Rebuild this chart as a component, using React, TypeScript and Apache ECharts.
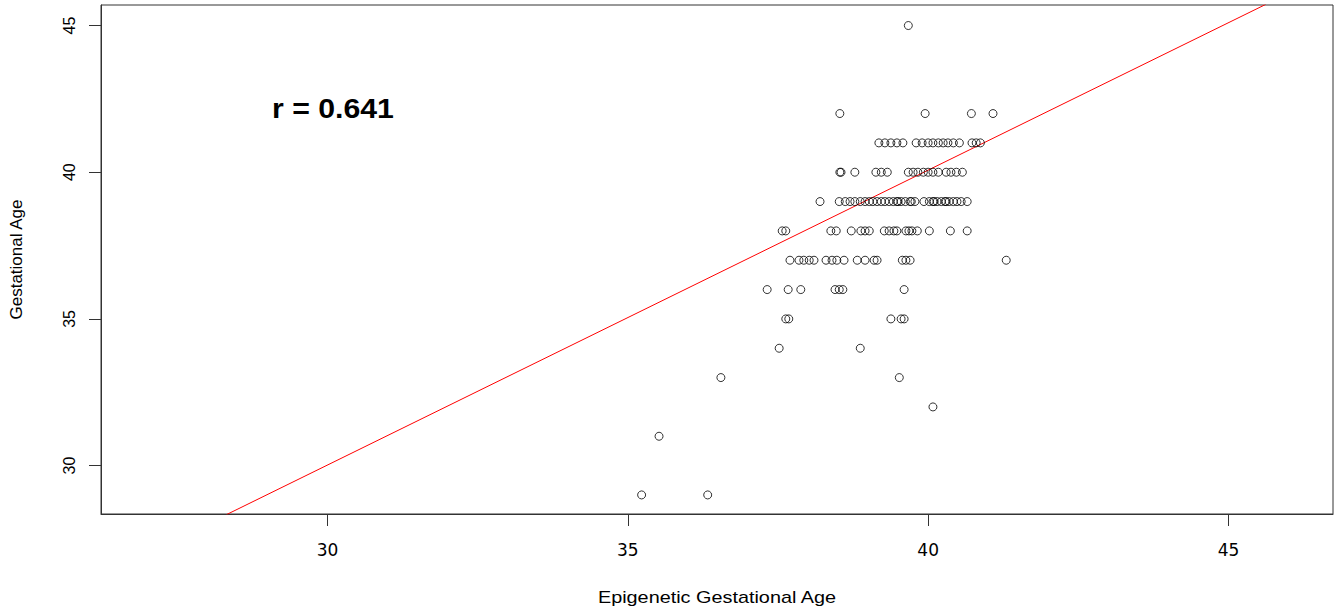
import React, { useEffect, useRef } from "react";
import * as echarts from "echarts";

// Epigenetic gestational age values, grouped by observed gestational age (weeks)
const epiAt45 = [39.67];
const epiAt42 = [38.53, 39.95, 40.72, 41.08];
const epiAt41 = [39.18, 39.28, 39.38, 39.48, 39.58, 39.8, 39.9, 40.0, 40.08, 40.17, 40.25, 40.33, 40.42, 40.52, 40.73, 40.8, 40.87];
const epiAt40 = [38.53, 38.55, 38.78, 39.13, 39.22, 39.32, 39.67, 39.75, 39.83, 39.92, 40.0, 40.08, 40.17, 40.3, 40.38, 40.47, 40.57];
const epiAt39 = [38.2, 38.52, 38.62, 38.7, 38.78, 38.87, 38.95, 39.02, 39.08, 39.15, 39.22, 39.28, 39.35, 39.42, 39.48, 39.5, 39.55, 39.62, 39.7, 39.72, 39.78, 39.93, 40.02, 40.08, 40.1, 40.15, 40.22, 40.28, 40.3, 40.35, 40.42, 40.48, 40.55, 40.65];
const epiAt38 = [37.57, 37.63, 38.38, 38.47, 38.72, 38.88, 38.95, 39.02, 39.27, 39.35, 39.43, 39.48, 39.63, 39.68, 39.73, 39.82, 40.02, 40.37, 40.65];
const epiAt37 = [37.7, 37.85, 37.93, 38.02, 38.1, 38.3, 38.4, 38.48, 38.6, 38.82, 38.95, 39.1, 39.15, 39.57, 39.63, 39.7, 41.3];
const epiAt36 = [37.32, 37.67, 37.88, 38.45, 38.52, 38.58, 39.6];
const epiAt35 = [37.63, 37.68, 39.38, 39.55, 39.6];
const epiAt34 = [37.52, 38.87];
const epiAt33 = [36.55, 39.52];
const epiAt32 = [40.08];
const epiAt31 = [35.52];
const epiAt29 = [35.23, 36.33];

const gestationalAges = [45, 42, 41, 40, 39, 38, 37, 36, 35, 34, 33, 32, 31, 29];
const epigeneticGroups = [epiAt45, epiAt42, epiAt41, epiAt40, epiAt39, epiAt38, epiAt37, epiAt36, epiAt35, epiAt34, epiAt33, epiAt32, epiAt31, epiAt29];

// Fitted line endpoints (at plot edges)
const fitX = [28.32, 45.62];
const fitY = [28.33, 45.72];

const xTicks = [30, 35, 40, 45];
const yTicks = [30, 35, 40, 45];
const correlationLabel = "r = 0.641";
const xTitle = "Epigenetic Gestational Age";
const yTitle = "Gestational Age";

export default function App() {
  const ref = useRef<HTMLDivElement>(null);
  useEffect(() => {
    if (!ref.current) return;
    const chart = echarts.init(ref.current, undefined, { renderer: "svg" });
    const points: number[][] = [];
    gestationalAges.forEach((ga, i) => {
      epigeneticGroups[i].forEach((e) => points.push([e, ga]));
    });
    const font = "'Liberation Sans', Arial, sans-serif";
    chart.setOption({
      animation: false,
      backgroundColor: "#fff",
      grid: {
        left: 101,
        top: 5,
        right: 2,
        bottom: 101,
        show: true,
        borderColor: "#333",
        borderWidth: 1,
        containLabel: false,
      },
      xAxis: {
        type: "value",
        min: 26.23,
        max: 46.74,
        axisLine: { show: true, onZero: false, lineStyle: { color: "#333" } },
        axisTick: { show: true, length: 12, lineStyle: { color: "#333" }, customValues: xTicks },
        axisLabel: { color: "#000", fontSize: 17, fontFamily: "'DejaVu Sans', sans-serif", margin: 27, customValues: xTicks },
        splitLine: { show: false },
      },
      yAxis: {
        type: "value",
        min: 28.35,
        max: 45.7,
        name: yTitle,
        nameLocation: "middle",
        nameGap: 76,
        nameRotate: 90,
        nameTextStyle: { color: "#000", fontSize: 17, fontFamily: font },
        axisLine: { show: true, onZero: false, lineStyle: { color: "#333" } },
        axisTick: { show: true, length: 12, lineStyle: { color: "#333" }, customValues: yTicks },
        axisLabel: { color: "#000", fontSize: 16, fontFamily: font, margin: 24, rotate: 90, customValues: yTicks },
        splitLine: { show: false },
      },
      series: [
        {
          type: "scatter",
          data: points,
          symbol: "circle",
          symbolSize: 8,
          itemStyle: { color: "rgba(0,0,0,0)", borderColor: "#000", borderWidth: 1 },
          z: 3,
        },
        {
          type: "line",
          data: fitX.map((x, i) => [x, fitY[i]]),
          showSymbol: false,
          symbol: "none",
          clip: true,
          lineStyle: { color: "#ff0000", width: 1 },
          z: 2,
        },
      ],
      graphic: [
        {
          type: "text",
          x: 272,
          y: 108,
          scaleX: 1.08,
          style: {
            text: correlationLabel,
            fill: "#000",
            font: `bold 28px ${font}`,
            textAlign: "left",
            textVerticalAlign: "middle",
          },
        },
        {
          type: "text",
          x: 717,
          y: 598,
          scaleX: 1.24,
          style: {
            text: xTitle,
            fill: "#000",
            font: `16px ${font}`,
            textAlign: "center",
            textVerticalAlign: "middle",
          },
        },
      ],
    });
    return () => chart.dispose();
  }, []);
  return (
    <div
      ref={ref}
      style={{ position: "fixed", left: 0, top: 0, width: 1335, height: 615 }}
    />
  );
}
